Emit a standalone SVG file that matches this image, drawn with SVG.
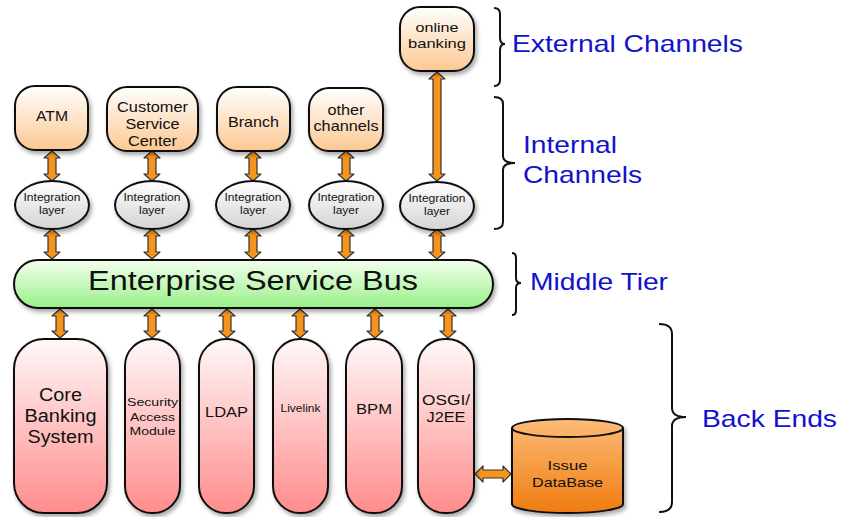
<svg xmlns="http://www.w3.org/2000/svg" width="848" height="517" viewBox="0 0 848 517">
<defs>
<linearGradient id="gPeach" x1="0" y1="0" x2="0" y2="1"><stop offset="0" stop-color="#ffffff"/><stop offset="1" stop-color="#fcc892"/></linearGradient>
<linearGradient id="gGray" x1="0" y1="0" x2="0" y2="1"><stop offset="0" stop-color="#ffffff"/><stop offset="1" stop-color="#d4d4d4"/></linearGradient>
<linearGradient id="gGreen" x1="0" y1="0" x2="0" y2="1"><stop offset="0" stop-color="#f4fff0"/><stop offset="1" stop-color="#98f088"/></linearGradient>
<linearGradient id="gPink" x1="0" y1="0" x2="0" y2="1"><stop offset="0" stop-color="#fff8f8"/><stop offset="1" stop-color="#ff8c8c"/></linearGradient>
<linearGradient id="gOrange" x1="0" y1="0" x2="0" y2="1"><stop offset="0" stop-color="#fcbc78"/><stop offset="1" stop-color="#f07c10"/></linearGradient>
<filter id="sh" x="-20%" y="-20%" width="140%" height="140%"><feDropShadow dx="2" dy="3" stdDeviation="2" flood-color="#000" flood-opacity="0.35"/></filter>
</defs>
<style>
.box{stroke:#111;stroke-width:2;filter:url(#sh)}
.t{font-family:"Liberation Sans",Arial,sans-serif;fill:#111;text-anchor:middle}
.lbl{font-family:"Liberation Sans",Arial,sans-serif;fill:#1212cc;font-size:24px}
.arr{fill:#f7941d;stroke:#333;stroke-width:1.2;stroke-linejoin:round}
.brace{fill:none;stroke:#111;stroke-width:2}
</style>

<g id="connectors">
<path class="arr" d="M52,151 L60,158 L56,158 L56,174 L60,174 L52,181 L44,174 L48,174 L48,158 L44,158 Z"/>
<path class="arr" d="M152,151 L160,158 L156,158 L156,174 L160,174 L152,181 L144,174 L148,174 L148,158 L144,158 Z"/>
<path class="arr" d="M253,151 L261,158 L257,158 L257,174 L261,174 L253,181 L245,174 L249,174 L249,158 L245,158 Z"/>
<path class="arr" d="M346,151 L354,158 L350,158 L350,174 L354,174 L346,181 L338,174 L342,174 L342,158 L338,158 Z"/>
<path class="arr" d="M437,72 L445,79 L441,79 L441,174 L445,174 L437,181 L429,174 L433,174 L433,79 L429,79 Z"/>
<path class="arr" d="M52,229 L60,236 L56,236 L56,252 L60,252 L52,259 L44,252 L48,252 L48,236 L44,236 Z"/>
<path class="arr" d="M152,229 L160,236 L156,236 L156,252 L160,252 L152,259 L144,252 L148,252 L148,236 L144,236 Z"/>
<path class="arr" d="M253,229 L261,236 L257,236 L257,252 L261,252 L253,259 L245,252 L249,252 L249,236 L245,236 Z"/>
<path class="arr" d="M346,229 L354,236 L350,236 L350,252 L354,252 L346,259 L338,252 L342,252 L342,236 L338,236 Z"/>
<path class="arr" d="M437,229 L445,236 L441,236 L441,252 L445,252 L437,259 L429,252 L433,252 L433,236 L429,236 Z"/>
<path class="arr" d="M60,309 L68,316 L64,316 L64,331 L68,331 L60,338 L52,331 L56,331 L56,316 L52,316 Z"/>
<path class="arr" d="M152,309 L160,316 L156,316 L156,331 L160,331 L152,338 L144,331 L148,331 L148,316 L144,316 Z"/>
<path class="arr" d="M227,309 L235,316 L231,316 L231,331 L235,331 L227,338 L219,331 L223,331 L223,316 L219,316 Z"/>
<path class="arr" d="M300,309 L308,316 L304,316 L304,331 L308,331 L300,338 L292,331 L296,331 L296,316 L292,316 Z"/>
<path class="arr" d="M375,309 L383,316 L379,316 L379,331 L383,331 L375,338 L367,331 L371,331 L371,316 L367,316 Z"/>
<path class="arr" d="M448,309 L456,316 L452,316 L452,331 L456,331 L448,338 L440,331 L444,331 L444,316 L440,316 Z"/>
<path class="arr" d="M475,474 L483,466 L483,470 L503,470 L503,466 L511,474 L503,482 L503,478 L483,478 L483,482 Z"/>
</g>

<g id="atm"><rect class="box" x="15" y="86" width="73" height="64" rx="20" fill="url(#gPeach)"/><text class="t" x="52" y="121" font-size="15" textLength="32" lengthAdjust="spacingAndGlyphs">ATM</text></g>
<g id="csc"><rect class="box" x="107" y="87" width="91" height="64" rx="20" fill="url(#gPeach)"/><text class="t" font-size="14.5"><tspan x="152.5" y="112" textLength="71" lengthAdjust="spacingAndGlyphs">Customer</tspan><tspan x="152.5" y="129" textLength="54" lengthAdjust="spacingAndGlyphs">Service</tspan><tspan x="152.5" y="146" textLength="49" lengthAdjust="spacingAndGlyphs">Center</tspan></text></g>
<g id="branch"><rect class="box" x="217" y="87" width="73" height="64" rx="20" fill="url(#gPeach)"/><text class="t" x="253.5" y="127" font-size="14.5" textLength="51" lengthAdjust="spacingAndGlyphs">Branch</text></g>
<g id="other"><rect class="box" x="309" y="88" width="74" height="63" rx="20" fill="url(#gPeach)"/><text class="t" font-size="14.5"><tspan x="346" y="115" textLength="37" lengthAdjust="spacingAndGlyphs">other</tspan><tspan x="346" y="131" textLength="65" lengthAdjust="spacingAndGlyphs">channels</tspan></text></g>
<g id="online"><rect class="box" x="400" y="7" width="74" height="64" rx="20" fill="url(#gPeach)"/><text class="t" font-size="13.5"><tspan x="437" y="32" textLength="43" lengthAdjust="spacingAndGlyphs">online</tspan><tspan x="437" y="48" textLength="58" lengthAdjust="spacingAndGlyphs">banking</tspan></text></g>

<g id="int1"><ellipse class="box" cx="52" cy="205" rx="37" ry="24" fill="url(#gGray)"/><text class="t" font-size="10"><tspan x="52" y="201" textLength="57" lengthAdjust="spacingAndGlyphs">Integration</tspan><tspan x="52" y="214" textLength="26" lengthAdjust="spacingAndGlyphs">layer</tspan></text></g>
<g id="int2"><ellipse class="box" cx="152" cy="205" rx="37" ry="24" fill="url(#gGray)"/><text class="t" font-size="10"><tspan x="152" y="201" textLength="57" lengthAdjust="spacingAndGlyphs">Integration</tspan><tspan x="152" y="214" textLength="26" lengthAdjust="spacingAndGlyphs">layer</tspan></text></g>
<g id="int3"><ellipse class="box" cx="253" cy="205" rx="37" ry="24" fill="url(#gGray)"/><text class="t" font-size="10"><tspan x="253" y="201" textLength="57" lengthAdjust="spacingAndGlyphs">Integration</tspan><tspan x="253" y="214" textLength="26" lengthAdjust="spacingAndGlyphs">layer</tspan></text></g>
<g id="int4"><ellipse class="box" cx="346" cy="205" rx="37" ry="24" fill="url(#gGray)"/><text class="t" font-size="10"><tspan x="346" y="201" textLength="57" lengthAdjust="spacingAndGlyphs">Integration</tspan><tspan x="346" y="214" textLength="26" lengthAdjust="spacingAndGlyphs">layer</tspan></text></g>
<g id="int5"><ellipse class="box" cx="437" cy="206" rx="37" ry="24" fill="url(#gGray)"/><text class="t" font-size="10"><tspan x="437" y="202" textLength="57" lengthAdjust="spacingAndGlyphs">Integration</tspan><tspan x="437" y="215" textLength="26" lengthAdjust="spacingAndGlyphs">layer</tspan></text></g>

<g id="esb"><rect class="box" x="14" y="260" width="479" height="48" rx="24" fill="url(#gGreen)"/><text class="t" x="253" y="290" font-size="27" textLength="330" lengthAdjust="spacingAndGlyphs">Enterprise Service Bus</text></g>

<g id="core"><rect class="box" x="14" y="339" width="93" height="174" rx="30" fill="url(#gPink)"/><text class="t" font-size="17.5"><tspan x="60.5" y="401" textLength="43" lengthAdjust="spacingAndGlyphs">Core</tspan><tspan x="60.5" y="422" textLength="72" lengthAdjust="spacingAndGlyphs">Banking</tspan><tspan x="60.5" y="443" textLength="66" lengthAdjust="spacingAndGlyphs">System</tspan></text></g>
<g id="sam"><rect class="box" x="125" y="339" width="55" height="174" rx="27" fill="url(#gPink)"/><text class="t" font-size="11.5"><tspan x="152.5" y="406" textLength="51" lengthAdjust="spacingAndGlyphs">Security</tspan><tspan x="152.5" y="421" textLength="45" lengthAdjust="spacingAndGlyphs">Access</tspan><tspan x="152.5" y="435" textLength="46" lengthAdjust="spacingAndGlyphs">Module</tspan></text></g>
<g id="ldap"><rect class="box" x="199" y="339" width="55" height="174" rx="27" fill="url(#gPink)"/><text class="t" x="226.5" y="417" font-size="14" textLength="43" lengthAdjust="spacingAndGlyphs">LDAP</text></g>
<g id="livelink"><rect class="box" x="273" y="339" width="55" height="174" rx="27" fill="url(#gPink)"/><text class="t" x="300.5" y="412" font-size="10" textLength="40" lengthAdjust="spacingAndGlyphs">Livelink</text></g>
<g id="bpm"><rect class="box" x="346" y="339" width="56" height="174" rx="27" fill="url(#gPink)"/><text class="t" x="374" y="414" font-size="14" textLength="36" lengthAdjust="spacingAndGlyphs">BPM</text></g>
<g id="osgi"><rect class="box" x="418" y="339" width="56" height="174" rx="27" fill="url(#gPink)"/><text class="t" font-size="14"><tspan x="446" y="405" textLength="48" lengthAdjust="spacingAndGlyphs">OSGI/</tspan><tspan x="446" y="422" textLength="39" lengthAdjust="spacingAndGlyphs">J2EE</tspan></text></g>

<g id="issuedb"><path class="box" d="M512,428 A55.5,9 0 0 1 623,428 L623,504 A55.5,9 0 0 1 512,504 Z" fill="url(#gOrange)"/><path d="M512,428 A55.5,9 0 0 0 623,428" fill="none" stroke="#111" stroke-width="2"/><text class="t" font-size="13"><tspan x="567.5" y="470" textLength="40" lengthAdjust="spacingAndGlyphs">Issue</tspan><tspan x="567.5" y="487" textLength="71" lengthAdjust="spacingAndGlyphs">DataBase</tspan></text></g>

<g id="labels">
<path class="brace" d="M494,8 Q500,8 500,14 L500,38 Q500,44 505,44 Q500,44 500,50 L500,80 Q500,86 494,86"/>
<text class="lbl" x="512" y="52" textLength="231" lengthAdjust="spacingAndGlyphs">External Channels</text>
<path class="brace" d="M494,97 Q503,97 503,104 L503,156 Q503,163 515,163 Q503,163 503,170 L503,222 Q503,229 494,229"/>
<text class="lbl" x="523" y="153" textLength="94" lengthAdjust="spacingAndGlyphs">Internal</text>
<text class="lbl" x="523" y="183" textLength="119" lengthAdjust="spacingAndGlyphs">Channels</text>
<path class="brace" d="M512,253 Q516,253 516,258 L516,278 Q516,283 521,283 Q516,283 516,288 L516,310 Q516,315 512,315"/>
<text class="lbl" x="530" y="290" textLength="138" lengthAdjust="spacingAndGlyphs">Middle Tier</text>
<path class="brace" d="M659,324 Q672,324 672,334 L672,408 Q672,417 686,417 Q672,417 672,426 L672,502 Q672,512 659,512"/>
<text class="lbl" x="702" y="427" textLength="135" lengthAdjust="spacingAndGlyphs">Back Ends</text>
</g>
</svg>
